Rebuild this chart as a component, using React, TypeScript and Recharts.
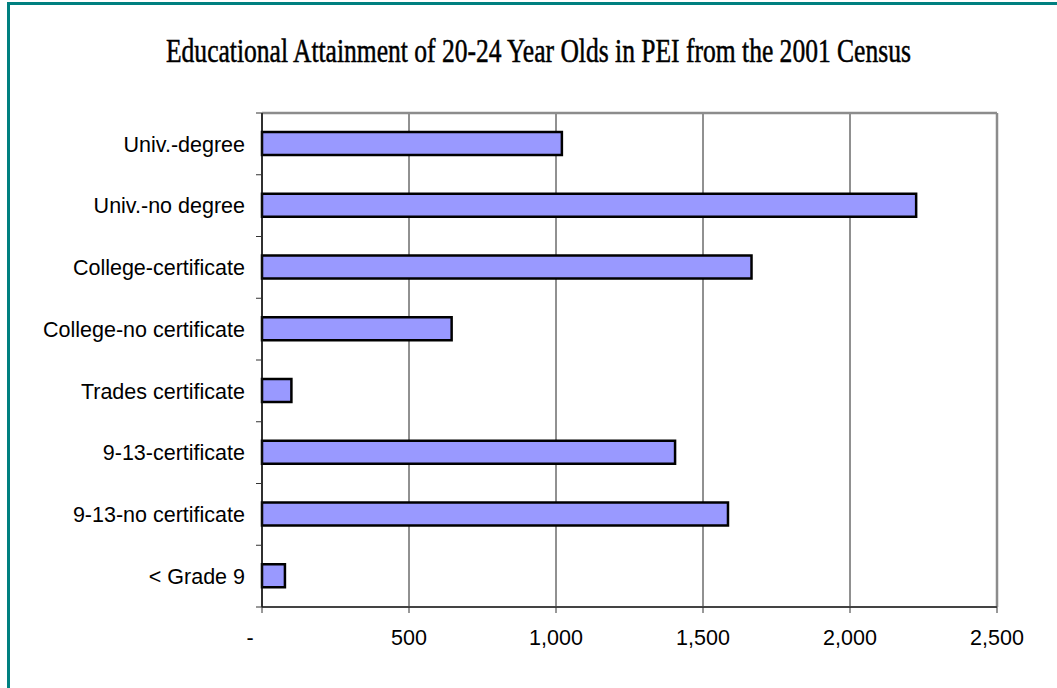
import React from "react";
import { BarChart, Bar, XAxis, YAxis, CartesianGrid } from "recharts";

const categories = [
  "Univ.-degree",
  "Univ.-no degree",
  "College-certificate",
  "College-no certificate",
  "Trades certificate",
  "9-13-certificate",
  "9-13-no certificate",
  "< Grade 9",
];
const counts = [1020, 2225, 1665, 645, 100, 1405, 1585, 78];
const xTicks = [0, 500, 1000, 1500, 2000, 2500];

const data = categories.map((c, i) => ({ level: c, count: counts[i] }));

const W = 1057;
const H = 688;
const M = { top: 113, right: 60, bottom: 41, left: 12 };
const Y_W = 250;
const LABEL_FONT = "'Liberation Sans', Arial, sans-serif";
const LABEL_SIZE = 21.5;

function XTick({ x, y, payload }: any) {
  const v = payload.value;
  return (
    <text
      x={v === 0 ? x - 12 : x}
      y={y}
      dy="0.71em"
      textAnchor="middle"
      fill="#000"
      fontSize={LABEL_SIZE}
      fontFamily={LABEL_FONT}
    >
      {v === 0 ? "-" : v.toLocaleString("en-US")}
    </text>
  );
}

function YTick({ x, y, payload, index }: any) {
  const half = payload.offset || (H - M.top - M.bottom - 40) / categories.length / 2;
  const ax = x + 17;
  return (
    <g>
      <line x1={ax - 6} x2={ax} y1={y - half} y2={y - half} stroke="#333" />
      {index === categories.length - 1 && (
        <line x1={ax - 6} x2={ax} y1={y + half} y2={y + half} stroke="#333" />
      )}
      <text
        x={x}
        y={y}
        dy="0.355em"
        textAnchor="end"
        fill="#000"
        fontSize={LABEL_SIZE}
        fontFamily={LABEL_FONT}
      >
        {payload.value}
      </text>
    </g>
  );
}

export default function App() {
  return (
    <div
      style={{
        position: "absolute",
        left: 0,
        top: 0,
        width: W,
        height: H,
        overflow: "hidden",
        background: "#fff",
      }}
    >
      <div
        style={{
          position: "absolute",
          left: 7,
          top: 2,
          width: W - 7,
          height: H - 2,
          borderTop: "3px solid #008080",
          borderLeft: "3px solid #008080",
          boxSizing: "border-box",
        }}
      />
      <div
        style={{
          position: "absolute",
          left: 166,
          top: 35,
          fontFamily: "'Liberation Serif', 'Times New Roman', serif",
          fontSize: 33,
          lineHeight: "33px",
          whiteSpace: "nowrap",
          color: "#000",
          WebkitTextStroke: "0.5px #000",
          transform: "scaleX(0.774)",
          transformOrigin: "left top",
        }}
      >
        Educational Attainment of 20-24 Year Olds in PEI from the 2001 Census
      </div>
      <div style={{ position: "absolute", left: 0, top: 0 }}>
        <BarChart width={W} height={H} data={data} layout="vertical" margin={M}>
          <CartesianGrid horizontal={false} stroke="#222" fill="none" />
          <CartesianGrid
            stroke="#8c8c8c"
            strokeWidth={2.5}
            fill="none"
            horizontalCoordinatesGenerator={({ offset }: any) => [offset.top]}
            verticalCoordinatesGenerator={({ offset }: any) => [offset.left + offset.width]}
          />
          <XAxis
            type="number"
            domain={[0, 2500]}
            ticks={xTicks}
            interval={0}
            height={40}
            tickSize={6}
            tickMargin={17}
            tick={<XTick />}
            axisLine={{ stroke: "#444", strokeWidth: 2 }}
            tickLine={{ stroke: "#333" }}
          />
          <YAxis
            type="category"
            dataKey="level"
            width={Y_W}
            interval={0}
            tickSize={0}
            tickMargin={17}
            tick={<YTick />}
            tickLine={false}
            axisLine={{ stroke: "#111", strokeWidth: 1.5 }}
          />
          <Bar
            dataKey="count"
            fill="#9999FF"
            stroke="#000"
            strokeWidth={2.5}
            barSize={23}
            isAnimationActive={false}
          />
        </BarChart>
      </div>
    </div>
  );
}
